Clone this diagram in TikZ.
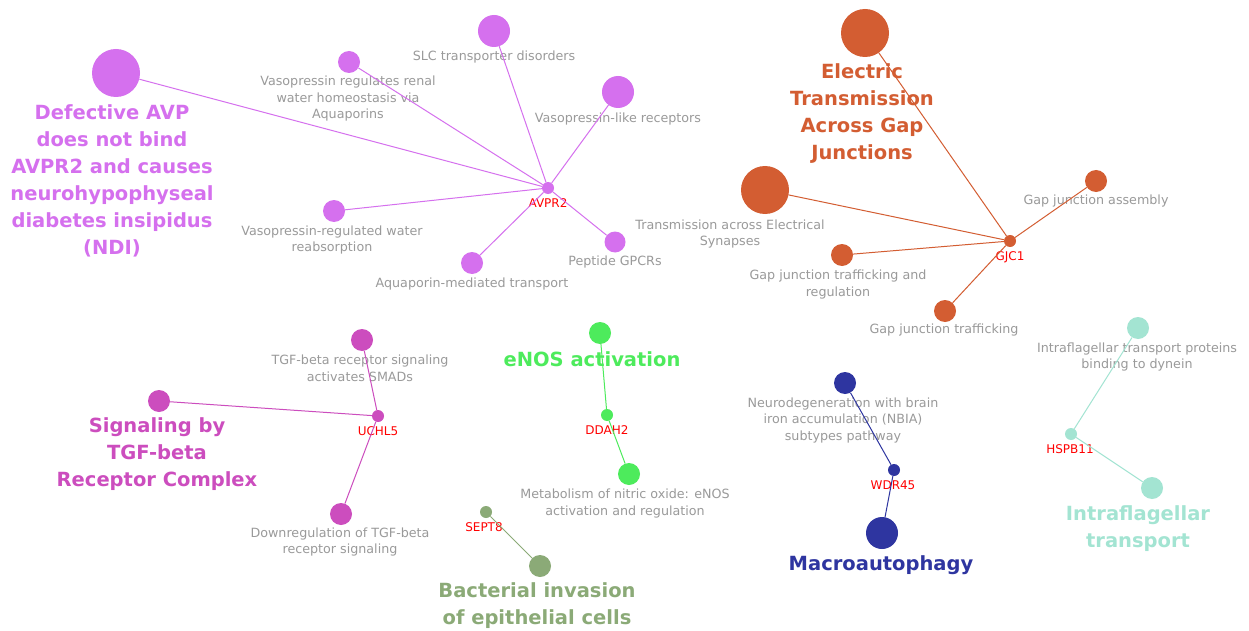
\documentclass[tikz,border=0pt]{standalone}
\usepackage{fontspec}
\setmainfont{DejaVu Sans}
\definecolor{cavp}{HTML}{D570EE}
\definecolor{cgjc}{HTML}{D35D32}
\definecolor{ctgf}{HTML}{CC4DBE}
\definecolor{cenos}{HTML}{4DEB5C}
\definecolor{csept}{HTML}{8BAA77}
\definecolor{cwdr}{HTML}{2E35A0}
\definecolor{chsp}{HTML}{A3E4D2}
\definecolor{labgrey}{HTML}{9A9A9A}
\tikzset{
  dot/.style={circle, fill=#1, draw=none, inner sep=0pt},
  hubdot/.style={dot=#1, minimum size=12pt},
  lab/.style={text=labgrey, font=\fontsize{12.7}{16.5}\selectfont, align=center, inner sep=0pt},
  biglab/.style={text=#1, font=\fontsize{19.5}{27}\selectfont\bfseries, align=center, inner sep=0pt},
  hublab/.style={text=red, font=\fontsize{12}{14}\selectfont, inner sep=0pt},
  edge/.style={draw=#1, line width=1pt}
}
\begin{document}
\begin{tikzpicture}[x=1pt,y=-1pt]
\useasboundingbox[fill=white] (0,0) rectangle (1249,631);

% ---------- labels ----------
\node[biglab=cavp] (lDef) at (112,180.5) {Defective AVP\\does not bind\\AVPR2 and causes\\neurohypophyseal\\diabetes insipidus\\(NDI)};
\node[lab] (lVrr) at (348,98.5) {Vasopressin regulates renal\\water homeostasis via\\Aquaporins};
\node[lab] (lSlc) at (494,57) {SLC transporter disorders};
\node[lab] (lVlr) at (618,119) {Vasopressin-like receptors};
\node[lab] (lVrw) at (332,240) {Vasopressin-regulated water\\reabsorption};
\node[lab] (lAqp) at (472,284) {Aquaporin-mediated transport};
\node[lab] (lPep) at (615,262) {Peptide GPCRs};
\node[hublab] (lAvpr) at (548,203) {AVPR2};

\node[biglab=cgjc] (lEl) at (862,113.5) {Electric\\Transmission\\Across Gap\\Junctions};
\node[lab] (lTae) at (730,234) {Transmission across Electrical\\Synapses};
\node[lab] (lGjtr) at (838,284.5) {Gap junction trafficking and\\regulation};
\node[lab] (lGjt) at (944,330) {Gap junction trafficking};
\node[lab] (lGja) at (1096,201) {Gap junction assembly};
\node[hublab] (lGjc) at (1010,257) {GJC1};

\node[biglab=ctgf] (lSig) at (157,454) {Signaling by\\TGF-beta\\Receptor Complex};
\node[lab] (lSmad) at (360,368.5) {TGF-beta receptor signaling\\activates SMADs};
\node[lab] (lDown) at (340,542) {Downregulation of TGF-beta\\receptor signaling};
\node[hublab] (lUch) at (378,431) {UCHL5};

\node[biglab=cenos] (lEnos) at (592,359) {eNOS activation};
\node[lab] (lMet) at (625,503.5) {Metabolism of nitric oxide: eNOS\\activation and regulation};
\node[hublab] (lDdah) at (607,430) {DDAH2};

\node[biglab=csept] (lBac) at (537,605.5) {Bacterial invasion\\of epithelial cells};
\node[hublab] (lSept) at (484,527) {SEPT8};

\node[lab] (lNeu) at (843,420) {Neurodegeneration with brain\\iron accumulation (NBIA)\\subtypes pathway};
\node[biglab=cwdr] (lMac) at (881,565) {Macroautophagy};
\node[hublab] (lWdr) at (893,485) {WDR45};

\node[lab] (lIfd) at (1137,357) {Intraflagellar transport proteins\\binding to dynein};
\node[biglab=chsp] (lIft) at (1138,528.5) {Intraflagellar\\transport};
\node[hublab] (lHsp) at (1070,449) {HSPB11};

% ---------- nodes ----------
\node[hubdot=cavp] (avpr) at (548,188) {};
\node[dot=cavp, minimum size=48pt] (def) at (116,73) {};
\node[dot=cavp, minimum size=22pt] (vrr) at (349,62) {};
\node[dot=cavp, minimum size=32pt] (slc) at (494,31) {};
\node[dot=cavp, minimum size=32pt] (vlr) at (618,92) {};
\node[dot=cavp, minimum size=22pt] (vrw) at (334,211) {};
\node[dot=cavp, minimum size=22pt] (aqp) at (472,263) {};
\node[dot=cavp, minimum size=21pt] (pep) at (615,242) {};

\node[hubdot=cgjc] (gjc) at (1010,241) {};
\node[dot=cgjc, minimum size=48pt] (el) at (865,33) {};
\node[dot=cgjc, minimum size=48pt] (tae) at (765,190) {};
\node[dot=cgjc, minimum size=22pt] (gjtr) at (842,255) {};
\node[dot=cgjc, minimum size=22pt] (gjt) at (945,311) {};
\node[dot=cgjc, minimum size=22pt] (gja) at (1096,181) {};

\node[hubdot=ctgf] (uch) at (378,416) {};
\node[dot=ctgf, minimum size=22pt] (sig) at (159,401) {};
\node[dot=ctgf, minimum size=22pt] (smad) at (362,340) {};
\node[dot=ctgf, minimum size=22pt] (down) at (341,514) {};

\node[hubdot=cenos] (ddah) at (607,415) {};
\node[dot=cenos, minimum size=22pt] (enos) at (600,333) {};
\node[dot=cenos, minimum size=22pt] (met) at (629,474) {};

\node[hubdot=csept] (sept) at (486,512) {};
\node[dot=csept, minimum size=22pt] (bac) at (540,566) {};

\node[hubdot=cwdr] (wdr) at (894,470) {};
\node[dot=cwdr, minimum size=22pt] (neu) at (845,383) {};
\node[dot=cwdr, minimum size=32pt] (mac) at (882,533) {};

\node[hubdot=chsp] (hsp) at (1071,434) {};
\node[dot=chsp, minimum size=22pt] (ifd) at (1138,328) {};
\node[dot=chsp, minimum size=22pt] (ift) at (1152,488) {};

% ---------- edges ----------
\foreach \t in {def,vrr,slc,vlr,vrw,aqp,pep} \draw[edge=cavp] (avpr) -- (\t);
\foreach \t in {el,tae,gjtr,gjt,gja} \draw[edge=cgjc] (gjc) -- (\t);
\foreach \t in {sig,smad,down} \draw[edge=ctgf] (uch) -- (\t);
\foreach \t in {enos,met} \draw[edge=cenos] (ddah) -- (\t);
\draw[edge=csept] (sept) -- (bac);
\foreach \t in {neu,mac} \draw[edge=cwdr] (wdr) -- (\t);
\foreach \t in {ifd,ift} \draw[edge=chsp] (hsp) -- (\t);
\end{tikzpicture}
\end{document}
